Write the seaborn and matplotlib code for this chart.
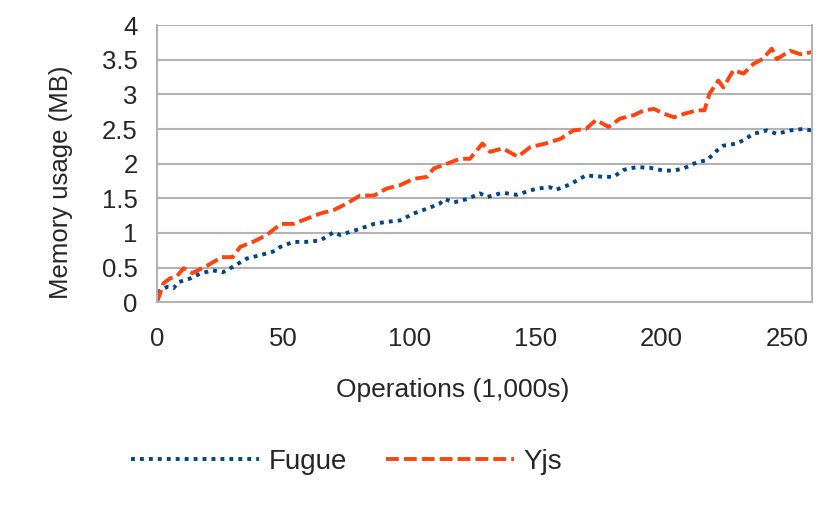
import numpy as np
import pandas as pd
import matplotlib
matplotlib.use("Agg")
import matplotlib.pyplot as plt
import seaborn as sns

# Datos (operaciones en miles, memoria en MB)
fugue_x = [0, 1.5, 4, 6.5, 8.5, 13, 17, 22, 26, 30, 35.6, 41, 46, 49, 54, 59, 64.7, 70,
           72.6, 80.5, 86, 91, 96.4, 101.7, 107, 112, 114, 117.6, 123, 128, 131, 137,
           142.5, 150.5, 155.7, 158, 163.7, 170, 177, 181, 185, 190, 195.5, 200.7,
           204.7, 208.7, 214, 218, 222, 224.5, 229.8, 232.5, 236.4, 241.7, 245.7, 251,
           256, 259.6]
fugue_y = [0.14, 0.17, 0.22, 0.2, 0.29, 0.34, 0.41, 0.46, 0.43, 0.51, 0.63, 0.68, 0.73,
           0.8, 0.87, 0.87, 0.89, 1.01, 0.97, 1.06, 1.13, 1.16, 1.18, 1.28, 1.35, 1.42,
           1.49, 1.44, 1.49, 1.57, 1.52, 1.58, 1.55, 1.64, 1.66, 1.62, 1.7, 1.83, 1.81,
           1.81, 1.91, 1.95, 1.94, 1.9, 1.9, 1.93, 2.02, 2.05, 2.19, 2.26, 2.29, 2.34,
           2.43, 2.48, 2.43, 2.48, 2.5, 2.48]

yjs_x = [0, 2.5, 5, 8, 10.5, 14, 20, 25.6, 30, 33, 38, 43.5, 49, 54, 59, 64.7, 70, 75,
         80.5, 86, 91, 96.4, 101.7, 107, 109.7, 115, 120, 124, 129, 132, 137, 143, 148,
         154, 160, 165, 170, 174, 179, 183.5, 189, 193, 197, 201, 205, 209, 214, 217,
         219, 222.5, 224.5, 228.5, 232.5, 236.4, 240, 243.7, 245.7, 251, 255, 259.6]
yjs_y = [0.0, 0.27, 0.34, 0.38, 0.49, 0.42, 0.53, 0.65, 0.65, 0.8, 0.87, 0.97, 1.13, 1.13,
         1.2, 1.28, 1.33, 1.42, 1.54, 1.54, 1.64, 1.69, 1.78, 1.81, 1.93, 2.0, 2.07, 2.07,
         2.29, 2.17, 2.22, 2.1, 2.24, 2.29, 2.36, 2.48, 2.5, 2.63, 2.53, 2.65, 2.7, 2.77,
         2.79, 2.72, 2.67, 2.72, 2.77, 2.77, 3.01, 3.2, 3.1, 3.35, 3.3, 3.44, 3.51, 3.66,
         3.51, 3.63, 3.58, 3.61]

x_ticks = [0, 50, 100, 150, 200, 250]
y_ticks = [0, 0.5, 1, 1.5, 2, 2.5, 3, 3.5, 4]

sns.set_style("white")
plt.rcParams['font.family'] = ['Liberation Sans', 'DejaVu Sans']

fig = plt.figure(figsize=(8.31, 5.13), dpi=100)
ax = fig.add_axes([0.189, 0.411, 0.788, 0.540])

gris = "#b3b3b3"
for yv in y_ticks:
    ax.axhline(yv, color=gris, lw=1.5, zorder=0)

sns.lineplot(x=fugue_x, y=fugue_y, ax=ax, color="#004586", lw=2.8,
             linestyle=(0, (1, 1.3)), label="Fugue")
sns.lineplot(x=yjs_x, y=yjs_y, ax=ax, color="#ff420e", lw=2.8,
             linestyle=(0, (3.3, 1.3)), label="Yjs")

ax.set_xlim(0, 259.6)
ax.set_ylim(0, 4)
ax.set_xticks(x_ticks)
ax.set_yticks(y_ticks)
ax.set_xticklabels([str(v) for v in x_ticks], fontsize=18.5)
ax.set_yticklabels([f"{v:g}" for v in y_ticks], fontsize=18.5)
ax.tick_params(axis="both", length=8, width=1.5, color=gris,
               direction="out", pad=6)
ax.tick_params(axis="x", pad=10)
for s in ax.spines.values():
    s.set_color(gris)
    s.set_linewidth(1.5)
ax.spines["top"].set_visible(False)

ax.set_xlabel("Operations (1,000s)", fontsize=19)
ax.set_ylabel("Memory usage (MB)", fontsize=18.5)
ax.xaxis.set_label_coords(0.452, -0.275)
ax.yaxis.set_label_coords(-0.128, 0.433)

ax.get_legend().remove()
h, l = ax.get_legend_handles_labels()
fig.legend(h, l, loc="center", bbox_to_anchor=(0.417, 0.099), ncol=2, frameon=False,
           fontsize=20, handlelength=4.6, columnspacing=1.4, handletextpad=0.36)

plt.savefig("out.png", dpi=100)
